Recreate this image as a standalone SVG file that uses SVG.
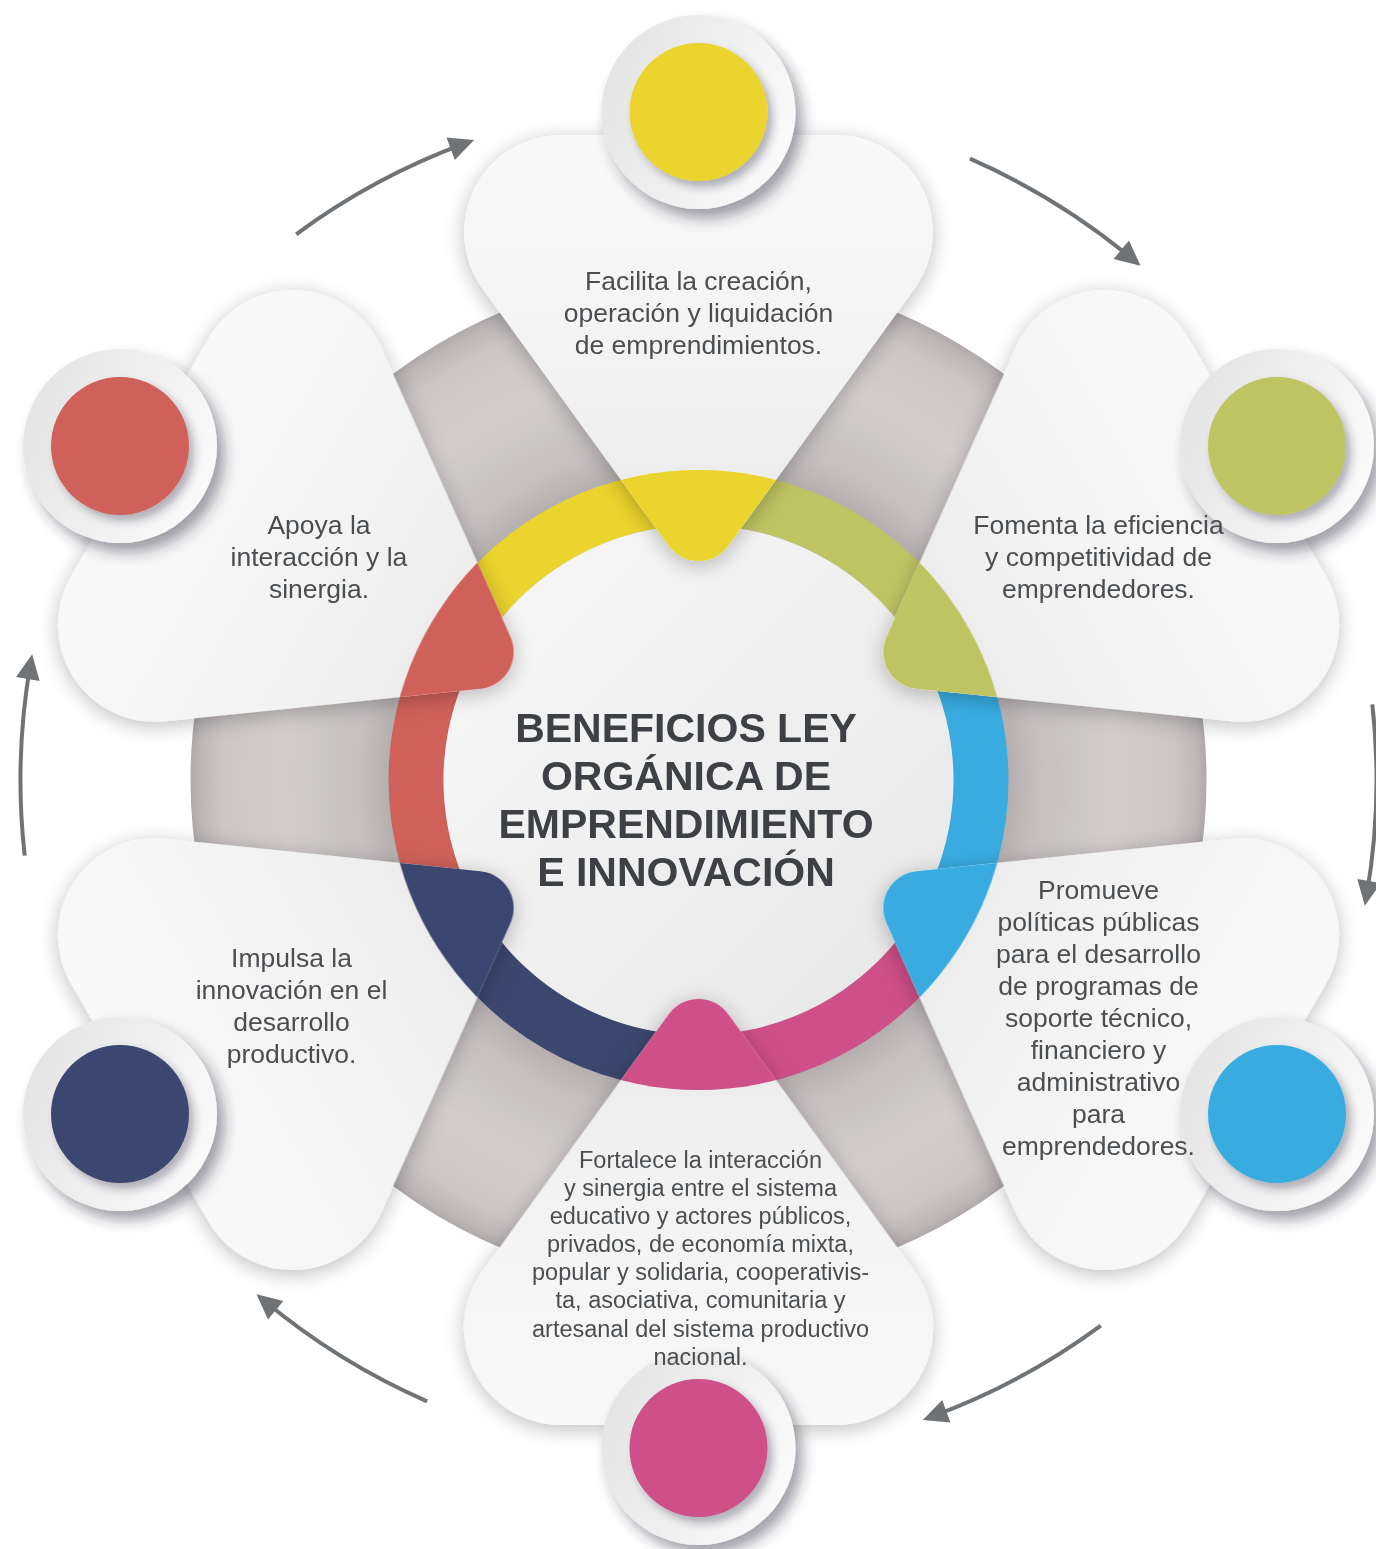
<svg xmlns="http://www.w3.org/2000/svg" xmlns:xlink="http://www.w3.org/1999/xlink" width="1376" height="1549" viewBox="0 0 1376 1549">
<style>
.t{font-family:"Liberation Sans",Arial,Helvetica,sans-serif;font-size:26.5px;fill:#4b4e51;text-anchor:middle}
.ts{font-family:"Liberation Sans",Arial,Helvetica,sans-serif;font-size:23.5px;fill:#4b4e51;text-anchor:middle}
.title{font-family:"Liberation Sans",Arial,Helvetica,sans-serif;font-size:41px;font-weight:bold;fill:#3d4145;text-anchor:middle}
.arr{fill:none;stroke:#6f7376;stroke-width:4}
</style>
<defs>
<radialGradient id="greyG" cx="0" cy="0" r="508" gradientUnits="userSpaceOnUse">
<stop offset="0.6" stop-color="#b2acad"/>
<stop offset="0.67" stop-color="#c5bfc0"/>
<stop offset="0.82" stop-color="#d3cecd"/>
<stop offset="0.94" stop-color="#cbc5c5"/>
<stop offset="0.985" stop-color="#bbb5b6"/>
<stop offset="1" stop-color="#aea8a9"/>
</radialGradient>
<linearGradient id="innerG" x1="0" y1="0" x2="1" y2="1">
<stop offset="0" stop-color="#f8f8f8"/>
<stop offset="1" stop-color="#e7e7e7"/>
</linearGradient>
<linearGradient id="petalG" x1="0" y1="0" x2="0" y2="1">
<stop offset="0" stop-color="#f9f9f9"/>
<stop offset="0.6" stop-color="#f2f2f2"/>
<stop offset="1" stop-color="#e8e8e8"/>
</linearGradient>
<linearGradient id="discG" x1="0" y1="0.3" x2="1" y2="0.7">
<stop offset="0" stop-color="#e4e4e4"/>
<stop offset="1" stop-color="#fbfbfb"/>
</linearGradient>
<filter id="pShadow" x="-20%" y="-20%" width="140%" height="140%">
<feDropShadow dx="0" dy="4" stdDeviation="10" flood-color="#000" flood-opacity="0.26"/>
</filter>
<filter id="dShadow" x="-30%" y="-30%" width="160%" height="160%">
<feDropShadow dx="7" dy="9" stdDeviation="7" flood-color="#2b2b40" flood-opacity="0.45"/>
</filter>
<filter id="cShadow" x="-30%" y="-30%" width="160%" height="160%">
<feDropShadow dx="5" dy="6" stdDeviation="4" flood-color="#2b2b40" flood-opacity="0.35"/>
</filter>
<clipPath id="ringClip"><circle cx="0" cy="0" r="310"/></clipPath>
<path id="petal" d="M -30,-234.4 A 37 37 0 0 0 30,-234.4 L 215.8,-491.1 A 97 97 0 0 0 137.2,-645 L -137.2,-645 A 97 97 0 0 0 -215.8,-491.1 Z"/>
<path id="sector" d="M -196.6,-162.3 L -221.1,-217.2 A 310 310 0 0 1 77.5,-300.1 L 42.3,-251.4 A 255 255 0 0 0 -196.6,-162.3 Z"/>
<marker id="head" markerUnits="userSpaceOnUse" markerWidth="40" markerHeight="40" viewBox="-20 -20 40 40" refX="0" refY="0" orient="auto">
<path d="M-16,-12 L9,0 L-16,12 Z" fill="#6f7376"/>
</marker>
</defs>
<rect width="1376" height="1549" fill="#ffffff"/>
<g id="background" transform="translate(698.5,780)">
<circle r="508" fill="url(#greyG)"/>
<use xlink:href="#sector" fill="#ebd42d"/>
<use xlink:href="#sector" fill="#bfc463" transform="rotate(60)"/>
<use xlink:href="#sector" fill="#38ace0" transform="rotate(120)"/>
<use xlink:href="#sector" fill="#cf4f88" transform="rotate(180)"/>
<use xlink:href="#sector" fill="#3b476f" transform="rotate(240)"/>
<use xlink:href="#sector" fill="#d0615a" transform="rotate(300)"/>
<circle r="255" fill="url(#innerG)"/>
</g>
<g id="connectors">
<path class="arr" d="M1372.3,704.4 A678 678 0 0 1 1366.4,896.8" marker-end="url(#head)"/>
<path class="arr" d="M1100.8,1325.7 A678 678 0 0 1 931.3,1416.8" marker-end="url(#head)"/>
<path class="arr" d="M427.1,1401.3 A678 678 0 0 1 263.4,1300.0" marker-end="url(#head)"/>
<path class="arr" d="M24.7,855.6 A678 678 0 0 1 30.6,663.2" marker-end="url(#head)"/>
<path class="arr" d="M296.2,234.3 A678 678 0 0 1 465.7,143.2" marker-end="url(#head)"/>
<path class="arr" d="M969.9,158.7 A678 678 0 0 1 1133.6,260.0" marker-end="url(#head)"/>
</g>
<g id="petals" filter="url(#pShadow)">
<g transform="translate(698.5,780)">
<g id="petal-top"><use xlink:href="#petal" fill="url(#petalG)"/><use xlink:href="#petal" fill="#ebd42d" clip-path="url(#ringClip)"/></g>
<g id="petal-upper-right" transform="rotate(60)"><use xlink:href="#petal" fill="url(#petalG)"/><use xlink:href="#petal" fill="#bfc463" clip-path="url(#ringClip)"/></g>
<g id="petal-lower-right" transform="rotate(120)"><use xlink:href="#petal" fill="url(#petalG)"/><use xlink:href="#petal" fill="#38ace0" clip-path="url(#ringClip)"/></g>
<g id="petal-bottom" transform="rotate(180)"><use xlink:href="#petal" fill="url(#petalG)"/><use xlink:href="#petal" fill="#cf4f88" clip-path="url(#ringClip)"/></g>
<g id="petal-lower-left" transform="rotate(240)"><use xlink:href="#petal" fill="url(#petalG)"/><use xlink:href="#petal" fill="#3b476f" clip-path="url(#ringClip)"/></g>
<g id="petal-upper-left" transform="rotate(300)"><use xlink:href="#petal" fill="url(#petalG)"/><use xlink:href="#petal" fill="#d0615a" clip-path="url(#ringClip)"/></g>
</g>
</g>
<g id="center-title">
<text class="title" x="686" y="742">BENEFICIOS LEY</text>
<text class="title" x="686" y="790">ORGÁNICA DE</text>
<text class="title" x="686" y="838">EMPRENDIMIENTO</text>
<text class="title" x="686" y="886">E INNOVACIÓN</text>
</g>
<g id="node-top">
<circle cx="698.5" cy="112" r="97" fill="url(#discG)" filter="url(#dShadow)"/>
<circle cx="698.5" cy="112" r="69" fill="#ebd42d" filter="url(#cShadow)"/>
<text class="t" x="698.5" y="290">Facilita la creación,</text>
<text class="t" x="698.5" y="322">operación y liquidación</text>
<text class="t" x="698.5" y="354">de emprendimientos.</text>
</g>
<g id="node-upper-right">
<circle cx="1277" cy="446" r="97" fill="url(#discG)" filter="url(#dShadow)"/>
<circle cx="1277" cy="446" r="69" fill="#bfc463" filter="url(#cShadow)"/>
<text class="t" x="1098.5" y="534">Fomenta la eficiencia</text>
<text class="t" x="1098.5" y="566">y competitividad de</text>
<text class="t" x="1098.5" y="598">emprendedores.</text>
</g>
<g id="node-lower-right">
<circle cx="1277" cy="1114" r="97" fill="url(#discG)" filter="url(#dShadow)"/>
<circle cx="1277" cy="1114" r="69" fill="#38ace0" filter="url(#cShadow)"/>
<text class="t" x="1098.5" y="899">Promueve</text>
<text class="t" x="1098.5" y="931">políticas públicas</text>
<text class="t" x="1098.5" y="963">para el desarrollo</text>
<text class="t" x="1098.5" y="995">de programas de</text>
<text class="t" x="1098.5" y="1027">soporte técnico,</text>
<text class="t" x="1098.5" y="1059">financiero y</text>
<text class="t" x="1098.5" y="1091">administrativo</text>
<text class="t" x="1098.5" y="1123">para</text>
<text class="t" x="1098.5" y="1155">emprendedores.</text>
</g>
<g id="node-bottom">
<circle cx="698.5" cy="1448" r="97" fill="url(#discG)" filter="url(#dShadow)"/>
<circle cx="698.5" cy="1448" r="69" fill="#cf4f88" filter="url(#cShadow)"/>
<text class="ts" x="700.5" y="1168">Fortalece la interacción</text>
<text class="ts" x="700.5" y="1196">y sinergia entre el sistema</text>
<text class="ts" x="700.5" y="1224">educativo y actores públicos,</text>
<text class="ts" x="700.5" y="1252">privados, de economía mixta,</text>
<text class="ts" x="700.5" y="1280">popular y solidaria, cooperativis-</text>
<text class="ts" x="700.5" y="1308">ta, asociativa, comunitaria y</text>
<text class="ts" x="700.5" y="1337">artesanal del sistema productivo</text>
<text class="ts" x="700.5" y="1365">nacional.</text>
</g>
<g id="node-lower-left">
<circle cx="120" cy="1114" r="97" fill="url(#discG)" filter="url(#dShadow)"/>
<circle cx="120" cy="1114" r="69" fill="#3b476f" filter="url(#cShadow)"/>
<text class="t" x="291.5" y="967">Impulsa la</text>
<text class="t" x="291.5" y="999">innovación en el</text>
<text class="t" x="291.5" y="1031">desarrollo</text>
<text class="t" x="291.5" y="1063">productivo.</text>
</g>
<g id="node-upper-left">
<circle cx="120" cy="446" r="97" fill="url(#discG)" filter="url(#dShadow)"/>
<circle cx="120" cy="446" r="69" fill="#d0615a" filter="url(#cShadow)"/>
<text class="t" x="319" y="534">Apoya la</text>
<text class="t" x="319" y="566">interacción y la</text>
<text class="t" x="319" y="598">sinergia.</text>
</g>
</svg>
